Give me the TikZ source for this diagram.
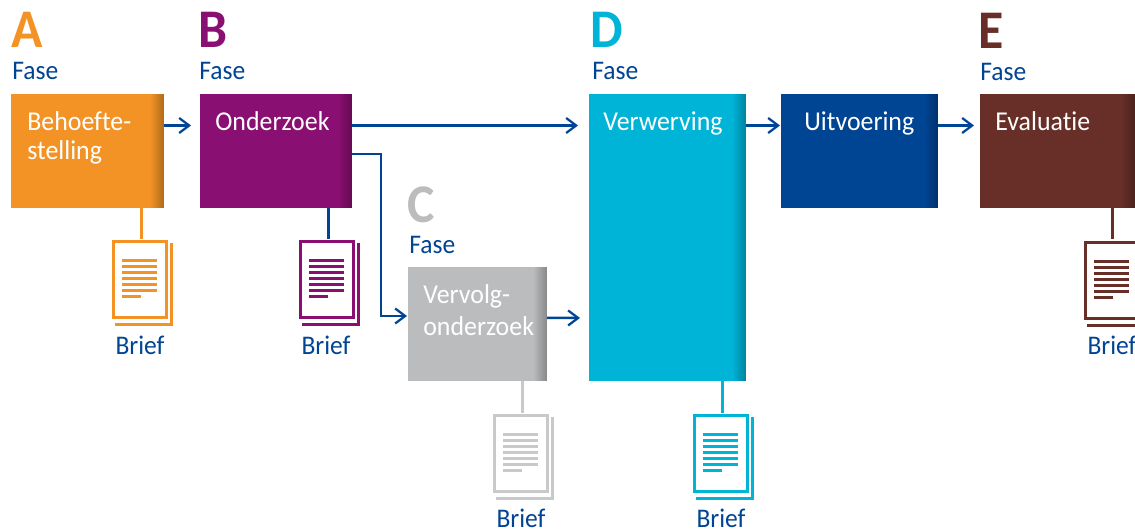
\documentclass[tikz,border=0pt]{standalone}
\usepackage{fontspec}
\setmainfont{Carlito}[Ligatures=NoCommon,FakeStretch=0.95]
\usetikzlibrary{arrows.meta}
\definecolor{faseA}{HTML}{F39325}
\definecolor{faseB}{HTML}{8A0F72}
\definecolor{faseC}{HTML}{BBBCBE}
\definecolor{faseD}{HTML}{00B4D8}
\definecolor{faseU}{HTML}{004494}
\definecolor{faseE}{HTML}{672F27}
\definecolor{docC}{HTML}{C8C9CA}
\definecolor{flowblue}{HTML}{004494}
\tikzset{
    phasebox/.style={anchor=north west, inner sep=0pt, outer sep=0pt, fill=#1, path picture={
        \foreach \k in {0,...,13} {
            \pgfmathtruncatemacro{\tint}{100-2*\k}
            \fill [#1!\tint!black] ([xshift=-0.28cm+0.02cm*\k]path picture bounding box.north east) rectangle ([xshift=0.02cm]path picture bounding box.south east);
        }}},
    boxtext/.style={anchor=base west, inner sep=0pt, text=white, font=\fontsize{15.5}{17}\selectfont},
    letter/.style={anchor=base west, inner sep=0pt, font=\fontsize{31}{31}\selectfont\bfseries},
    fase/.style={anchor=base west, inner sep=0pt, text=flowblue, font=\fontsize{15.3}{16}\selectfont},
    brief/.style={anchor=base, inner sep=0pt, text=flowblue, font=\fontsize{15.3}{16}\selectfont},
    sheet/.style={anchor=north west, inner sep=0pt, outer sep=0pt, draw=#1, line width=0.06cm, fill=white, minimum width=1.06cm, minimum height=1.52cm},
    flow/.style={draw=flowblue, line width=0.05cm, -{Straight Barb[length=0.2cm,width=0.3cm,line width=0.045cm]}},
    stem/.style={line width=0.06cm}
}
% one stacked sheet: name, x, y, colour
\newcommand{\briefdoc}[4]{
    \draw [#4, line width=0.06cm] (#2+3,#3+84.5) -- (#2+59.5,#3+84.5) -- (#2+59.5,#3+3);
    \node [sheet=#4] (#1) at (#2+1.5,#3+1.5) {};
    \foreach \i in {0,...,5}
        \fill [#4] (#2+10,#3+19+6*\i) rectangle (#2+45,#3+22+6*\i);
    \fill [#4] (#2+10,#3+55) rectangle (#2+29,#3+58);
}
\begin{document}
\begin{tikzpicture}[x=0.02cm, y=-0.02cm]
    \clip (0,0) rectangle (1135,528);

    \node [phasebox=faseA, minimum width=3.06cm, minimum height=2.28cm] (boxA) at (11,94) {};
    \node [phasebox=faseB, minimum width=3.04cm, minimum height=2.28cm] (boxB) at (200,94) {};
    \node [phasebox=faseC, minimum width=2.78cm, minimum height=2.28cm] (boxC) at (408,267) {};
    \node [phasebox=faseD, minimum width=3.14cm, minimum height=5.74cm] (boxD) at (589,94) {};
    \node [phasebox=faseU, minimum width=3.14cm, minimum height=2.28cm] (boxU) at (781,94) {};
    \node [phasebox=faseE, minimum width=3.10cm, minimum height=2.28cm] (boxE) at (980,94) {};

    \node [boxtext] (txtA) at (27,130) {Behoefte-};
    \node [boxtext] (txtAb) at (27,159) {stelling};
    \node [boxtext] (txtB) at (215,130) {Onderzoek};
    \node [boxtext] (txtC) at (423,303) {Vervolg-};
    \node [boxtext] (txtCb) at (423,335) {onderzoek};
    \node [boxtext] (txtD) at (603,130) {Verwerving};
    \node [boxtext] (txtU) at (804,130) {Uitvoering};
    \node [boxtext] (txtE) at (995,130) {Evaluatie};

    \node [letter, text=faseA] (letA) at (11,47) {A};
    \node [letter, text=faseB] (letB) at (198,47) {B};
    \node [letter, text=faseC] (letC) at (407,222) {C};
    \node [letter, text=faseD] (letD) at (590,47) {D};
    \node [letter, text=faseE] (letE) at (978,48) {E};

    \node [fase] (faseA) at (12,79) {Fase};
    \node [fase] (faseB) at (199,79) {Fase};
    \node [fase] (faseC) at (409,253) {Fase};
    \node [fase] (faseD) at (592,79) {Fase};
    \node [fase] (faseE) at (980,80) {Fase};

    \briefdoc{docA}{112}{240}{faseA}
    \briefdoc{docB}{299}{240}{faseB}
    \briefdoc{docC}{493}{414}{docC}
    \briefdoc{docD}{693}{414}{faseD}
    \briefdoc{docE}{1084}{241}{faseE}

    \node [brief] (briefA) at (140,354) {Brief};
    \node [brief] (briefB) at (326,354) {Brief};
    \node [brief] (briefC) at (521,527) {Brief};
    \node [brief] (briefD) at (721,527) {Brief};
    \node [brief] (briefE) at (1112,354) {Brief};

    \draw [stem, faseA] ([xshift=0.03cm]boxA.south -| docA.north) -- ([xshift=0.03cm,yshift=0.06cm]docA.north);
    \draw [stem, flowblue] ([xshift=0.03cm]boxB.south -| docB.north) -- ([xshift=0.03cm,yshift=0.06cm]docB.north);
    \draw [stem, docC] ([xshift=0.02cm]boxC.south -| docC.north) -- ([xshift=0.02cm,yshift=0.06cm]docC.north);
    \draw [stem, faseD] ([xshift=0.02cm]boxD.south -| docD.north) -- ([xshift=0.02cm,yshift=0.06cm]docD.north);
    \draw [stem, faseE] (boxE.south -| docE.north) -- ([yshift=0.08cm]docE.north);

    \draw [flow] ([yshift=-0.63cm]boxA.north east) -- ([xshift=-0.18cm,yshift=-0.63cm]boxB.north west);
    \draw [flow] ([yshift=-0.63cm]boxB.north east) -- ([xshift=-0.22cm,yshift=-0.63cm]boxD.north west);
    \draw [flow] ([yshift=-0.63cm]boxD.north east) -- ([xshift=-0.02cm,yshift=-0.63cm]boxU.north west);
    \draw [flow] ([yshift=-0.63cm]boxU.north east) -- ([xshift=-0.12cm,yshift=-0.63cm]boxE.north west);
    \draw [flow, line width=0.035cm] ([yshift=-1.2cm]boxB.north east) -| (381,316) -- ([xshift=-0.02cm,yshift=-0.98cm]boxC.north west);
    \draw [flow] ([yshift=-1.02cm]boxC.north east) -- ([xshift=-0.18cm,yshift=-4.48cm]boxD.north west);
\end{tikzpicture}
\end{document}
